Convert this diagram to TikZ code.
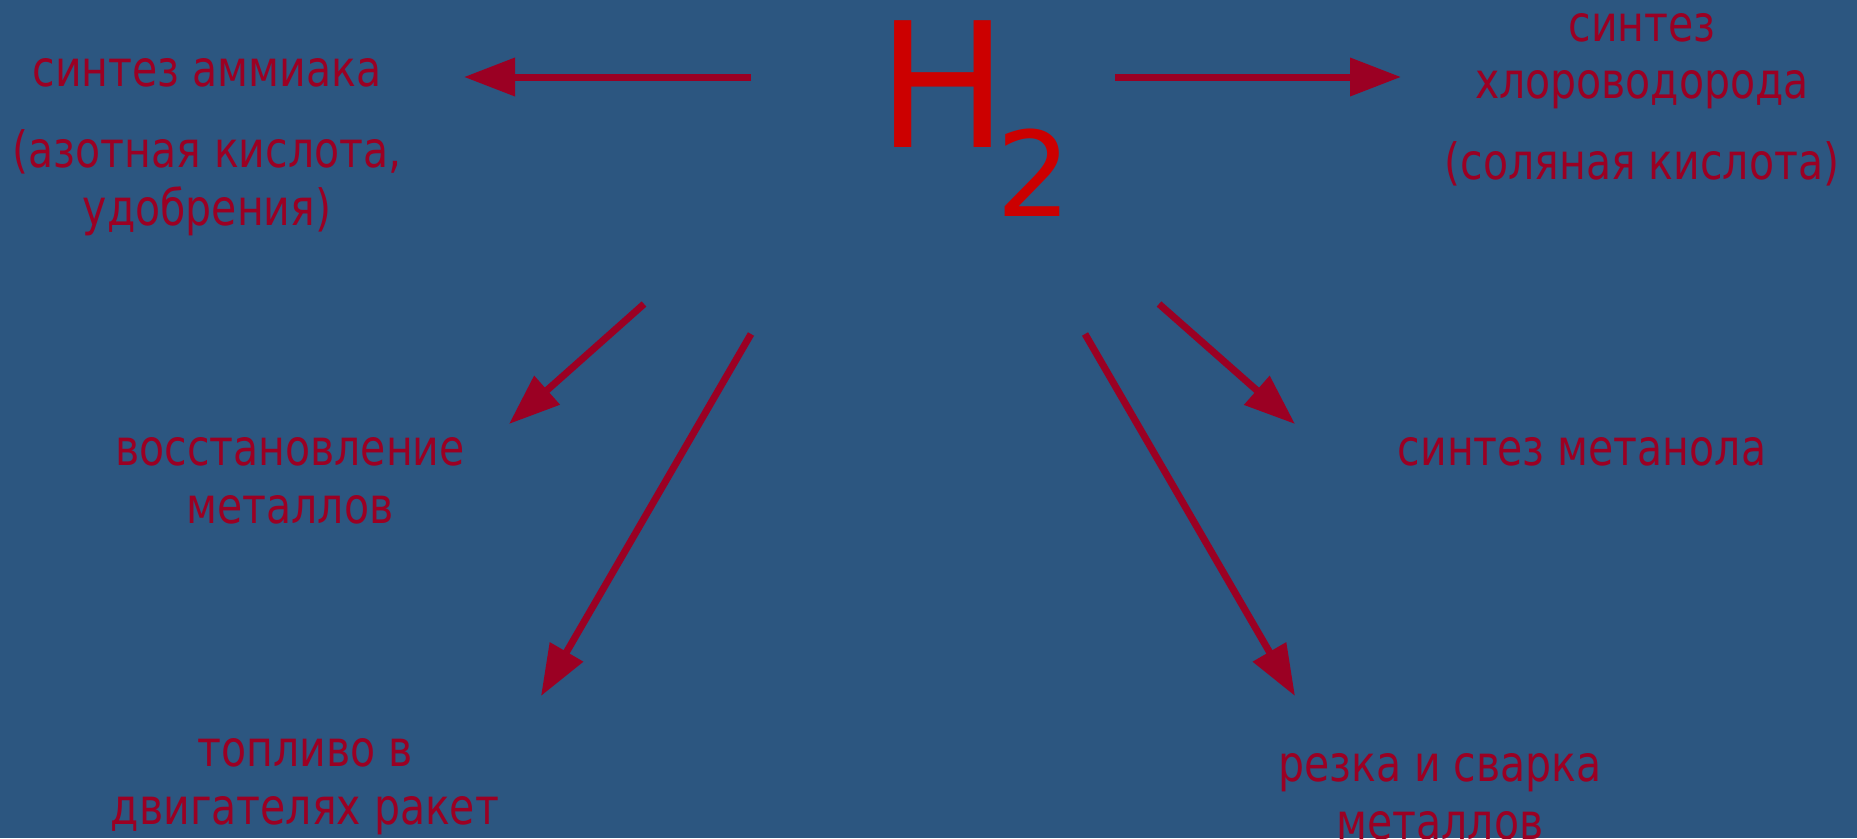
\documentclass[tikz,border=0pt]{standalone}
\usepackage{fontspec}
\setmainfont[FakeStretch=0.82]{DejaVu Sans}
\newfontfamily\hfont{DejaVu Sans}
\usetikzlibrary{arrows.meta}
\definecolor{bg}{RGB}{44,86,128}
\definecolor{lbl}{RGB}{155,0,35}
\definecolor{hred}{RGB}{204,0,0}
\tikzset{
  lab/.style={text=lbl, font=\fontsize{50}{58}\selectfont, anchor=base, inner sep=0pt},
  conn/.style={draw=lbl, line width=7pt, -{Triangle[length=51pt,width=37pt]}}
}
\begin{document}
\begin{tikzpicture}[x=1pt,y=-1pt]
\fill[bg] (0,0) rectangle (1857,838);
\useasboundingbox (0,0) rectangle (1857,838);
% H2
\node[text=hred, anchor=base west, inner sep=0pt, font=\hfont\fontsize{174}{174}\selectfont] (H) at (877,147) {H};
\node[text=hred, anchor=base west, inner sep=0pt, font=\hfont\fontsize{118}{118}\selectfont] (two) at (996,216) {2};
% labels
\node[lab] (amm1) at (207,86) {синтез аммиака};
\node[lab] (amm2) at (207,167) {(азотная кислота,};
\node[lab] (amm3) at (207,225) {удобрения)};
\node[lab] (hcl1) at (1642,41) {синтез};
\node[lab] (hcl2) at (1642,98) {хлороводорода};
\node[lab] (hcl3) at (1642,179) {(соляная кислота)};
\node[lab] (red1) at (290,465) {восстановление};
\node[lab] (red2) at (290,523) {металлов};
\node[lab] (meth) at (1582,465) {синтез метанола};
\node[lab] (fuel1) at (305,766) {топливо в};
\node[lab] (fuel2) at (305,824) {двигателях ракет};
\node[lab] (cut1) at (1440,781) {резка и сварка};
\node[lab] (cut2) at (1440,839) {металлов};
% connector ends
\coordinate (sL) at (751,77);  \coordinate (tL) at (464,77);
\coordinate (sR) at (1115,77); \coordinate (tR) at (1401,77);
\coordinate (sUL) at (644,304); \coordinate (tUL) at (509,424);
\coordinate (sLL) at (751,334); \coordinate (tLL) at (541,696);
\coordinate (sUR) at (1159,304); \coordinate (tUR) at (1295,424);
\coordinate (sLR) at (1085,334); \coordinate (tLR) at (1295,696);
\draw[conn] (sL) -- (tL);
\draw[conn] (sR) -- (tR);
\draw[conn] (sUL) -- (tUL);
\draw[conn] (sLL) -- (tLL);
\draw[conn] (sUR) -- (tUR);
\draw[conn] (sLR) -- (tLR);
\end{tikzpicture}
\end{document}
